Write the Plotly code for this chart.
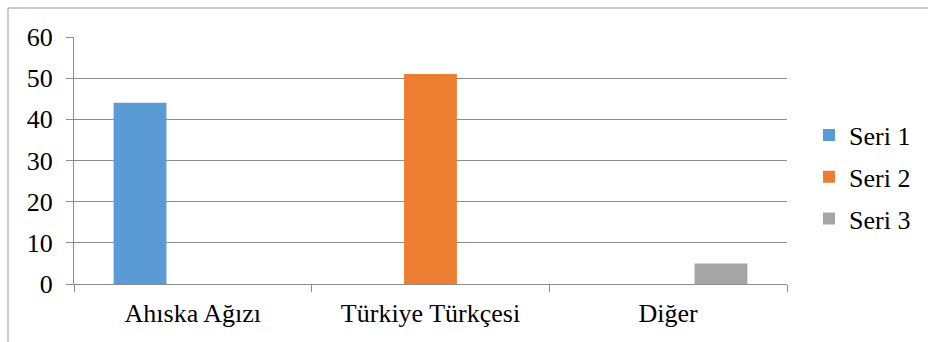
import plotly.graph_objects as go

# Chart data
categories = ["Ahıska Ağızı", "Türkiye Türkçesi", "Diğer"]
series_names = ["Seri 1", "Seri 2", "Seri 3"]
seri1 = [44, 0, 0]
seri2 = [0, 51, 0]
seri3 = [0, 0, 5]
y_ticks = [0, 10, 20, 30, 40, 50, 60]

colors = ["#5B9BD5", "#ED7D31", "#A5A5A5"]
grid = "#8C8C8C"
font = dict(family="Liberation Serif", size=26, color="#000000")

W, H = 928, 342
L, R, T, B = 74, 141, 37, 58
pw, ph = W - L - R, H - T - B

fig = go.Figure()
for name, vals, col in zip(series_names, [seri1, seri2, seri3], colors):
    fig.add_trace(go.Bar(
        x=categories, y=vals, name=name, legendgroup=name,
        marker=dict(color=col, line=dict(width=0)),
    ))

fig.update_layout(
    width=W, height=H,
    margin=dict(l=L, r=R, t=T, b=B, pad=0),
    paper_bgcolor="white", plot_bgcolor="white",
    font=font,
    barmode="group", bargap=1 / 3, bargroupgap=0,
    showlegend=True,
    legend=dict(
        x=(809 - L) / pw, xanchor="left",
        y=(H - B - 177) / ph, yanchor="middle",
        font=font, tracegroupgap=5,
        bgcolor="rgba(0,0,0,0)", borderwidth=0,
        itemwidth=30,
    ),
    xaxis=dict(
        showline=True, linecolor=grid, linewidth=1,
        ticks="outside", ticklen=7, tickcolor=grid, tickwidth=1,
        tickson="boundaries", showgrid=False,
        tickfont=font, ticklabelstandoff=6,
    ),
    yaxis=dict(
        range=[0, 60], tickvals=y_ticks,
        showline=True, linecolor=grid, linewidth=1,
        ticks="outside", ticklen=7, tickcolor=grid, tickwidth=1,
        showgrid=True, gridcolor=grid, gridwidth=1,
        zeroline=False, tickfont=font, ticklabelstandoff=8,
    ),
)

# Outer chart frame
fig.add_shape(
    type="rect", xref="paper", yref="paper",
    x0=(8 - L) / pw, x1=(W + 20 - L) / pw,
    y0=(H - B - (H + 20)) / ph, y1=(H - B - 8) / ph,
    line=dict(color="#999999", width=1), fillcolor="rgba(0,0,0,0)",
    layer="below",
)

fig.write_html("out.html")
